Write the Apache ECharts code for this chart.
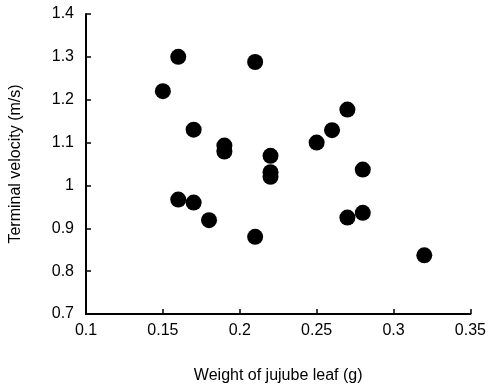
<!DOCTYPE html>
<html>
<head>
<meta charset="utf-8">
<script src="https://cdn.jsdelivr.net/npm/echarts@6/dist/echarts.min.js"></script>
<style>html,body{margin:0;padding:0;background:#fff}#c{width:489px;height:390px}</style>
</head>
<body>
<div id="c"></div>
<script>
var weights = [0.15, 0.16, 0.17, 0.19, 0.19, 0.21, 0.27, 0.26, 0.25, 0.22, 0.22, 0.22, 0.28, 0.16, 0.17, 0.18, 0.21, 0.27, 0.28, 0.32];
var velocities = [1.22, 1.30, 1.13, 1.093, 1.079, 1.288, 1.177, 1.129, 1.10, 1.069, 1.031, 1.02, 1.037, 0.967, 0.96, 0.919, 0.88, 0.925, 0.936, 0.837];
var xName = 'Weight of jujube leaf (g)';
var yName = 'Terminal velocity (m/s)';

var pts = weights.map(function (w, i) { return [w, velocities[i]]; });
var font = 'Liberation Sans, Arial, sans-serif';
var chart = echarts.init(document.getElementById('c'));
chart.setOption({
  animation: false,
  grid: { left: 84, right: 17, top: 14, bottom: 76, containLabel: false },
  xAxis: {
    type: 'value', min: 0.1, max: 0.35, interval: 0.05,
    name: xName, nameLocation: 'middle', nameGap: 54,
    nameTextStyle: { color: '#000', fontSize: 16, fontFamily: font },
    axisLine: { show: true, onZero: false, lineStyle: { color: '#000', width: 2 } },
    axisTick: { show: true, inside: true, length: 5, lineStyle: { color: '#000', width: 1.5 } },
    axisLabel: { color: '#000', fontSize: 16, fontFamily: font, margin: 9, formatter: function (v) { return String(+v.toFixed(2)); } },
    splitLine: { show: false }
  },
  yAxis: {
    type: 'value', min: 0.7, max: 1.4, interval: 0.1,
    name: yName, nameLocation: 'middle', nameGap: 62,
    nameTextStyle: { color: '#000', fontSize: 16, fontFamily: font },
    axisLine: { show: true, onZero: false, lineStyle: { color: '#000', width: 2 } },
    axisTick: { show: true, inside: true, length: 5, lineStyle: { color: '#000', width: 1.5 } },
    axisLabel: { color: '#000', fontSize: 16, fontFamily: font, margin: 12, formatter: function (v) { return String(+v.toFixed(1)); } },
    splitLine: { show: false }
  },
  series: [{
    type: 'scatter',
    data: pts,
    symbol: 'circle',
    symbolSize: 16,
    itemStyle: { color: '#000', opacity: 1 }
  }]
});
</script>
</body>
</html>
